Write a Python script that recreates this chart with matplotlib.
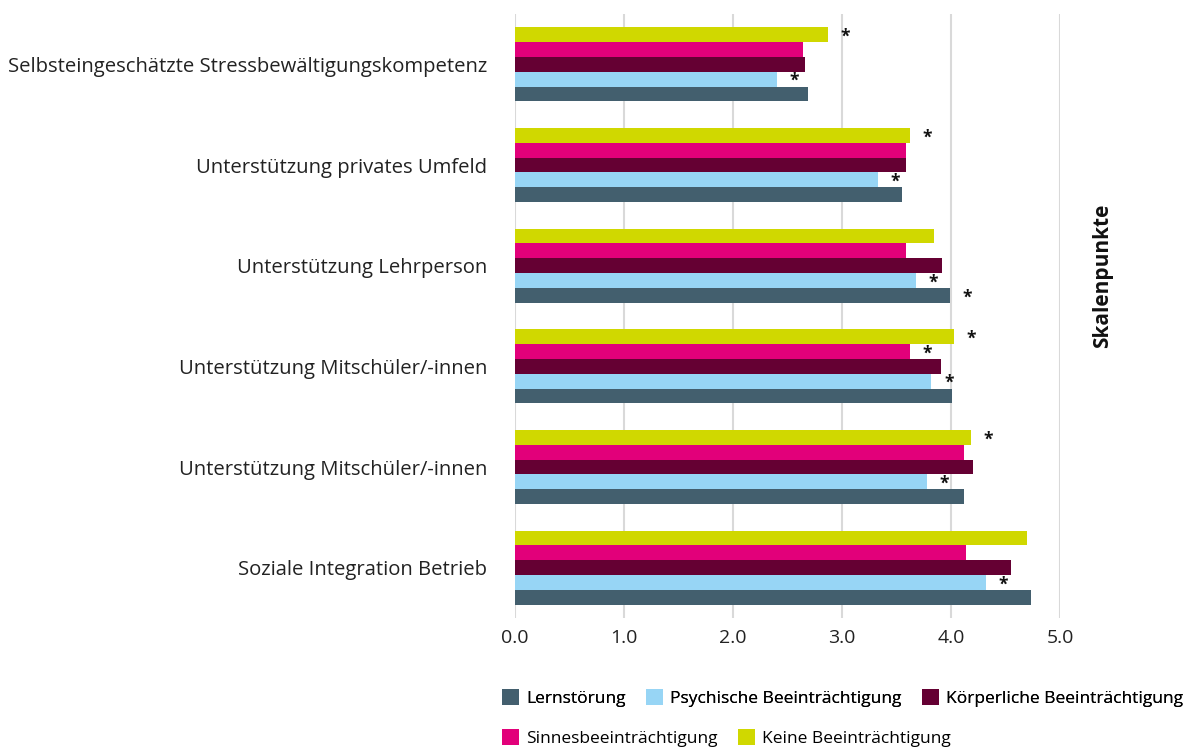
import numpy as np
import matplotlib.pyplot as plt
from matplotlib.patches import Patch

plt.rcParams['font.family'] = ['Open Sans', 'DejaVu Sans']

# categories, top to bottom as shown
categories = [
    "Selbsteingeschätzte Stressbewältigungskompetenz",
    "Unterstützung privates Umfeld",
    "Unterstützung Lehrperson",
    "Unterstützung Mitschüler/-innen",
    "Unterstützung Mitschüler/-innen",
    "Soziale Integration Betrieb",
]
series_names = ["Lernstörung", "Psychische Beeinträchtigung", "Körperliche Beeinträchtigung",
                "Sinnesbeeinträchtigung", "Keine Beeinträchtigung"]
colors = ["#435f6e", "#97d5f5", "#650033", "#e2007a", "#d0d800"]

lernstoerung = [2.69, 3.55, 3.99, 4.01, 4.12, 4.73]
psychische = [2.40, 3.33, 3.68, 3.82, 3.78, 4.32]
koerperliche = [2.66, 3.59, 3.92, 3.91, 4.20, 4.55]
sinnes = [2.64, 3.59, 3.59, 3.62, 4.12, 4.14]
keine = [2.87, 3.62, 3.84, 4.03, 4.18, 4.70]

# significance markers (*)
sig_lern = [False, False, True, False, False, False]
sig_psych = [True, True, True, True, True, True]
sig_koerp = [False, False, False, False, False, False]
sig_sinnes = [False, False, False, True, False, False]
sig_keine = [True, True, False, True, True, False]

values = [lernstoerung, psychische, koerperliche, sinnes, keine]
sigs = [sig_lern, sig_psych, sig_koerp, sig_sinnes, sig_keine]

fig = plt.figure(figsize=(11.91, 7.49), dpi=100)
ax = fig.add_axes([515/1191, 1-618/749, (1060-515)/1191, (618-14)/749])

n_cat = len(categories)
ypos = np.arange(n_cat)[::-1]  # first category on top
h = 0.147
offsets = (np.arange(5) - 2) * h

for k in range(5):
    ax.barh(ypos + offsets[k], values[k], height=h, color=colors[k], linewidth=0, zorder=3)
    for i in range(n_cat):
        if sigs[k][i]:
            ax.text(values[k][i] + 0.16, ypos[i] + offsets[k] - 0.02, "*", ha='center', va='center',
                    fontsize=12.5, fontweight='bold', color='#111111', zorder=4)

ax.set_xlim(0, 5)
ax.set_ylim(-0.5, n_cat - 0.5)
ax.set_xticks(np.arange(0, 5.01, 1.0))
ax.set_xticklabels([f"{v:.1f}" for v in np.arange(0, 5.01, 1.0)], fontsize=14, color='#222222')
ax.set_yticks(ypos)
ax.set_yticklabels(categories, fontsize=14.6, color='#222222')
ax.tick_params(axis='both', length=0)
ax.tick_params(axis='y', pad=20)
ax.tick_params(axis='x', pad=8)
ax.grid(axis='x', color='#d9d9d9', linewidth=1.5, zorder=0)
for s in ax.spines.values():
    s.set_visible(False)

fig.text(1103/1191, 1-276/749, "Skalenpunkte", rotation=90, ha='center', va='center',
         fontsize=15, fontweight='bold', color='#111111')

handles = [Patch(facecolor=c, edgecolor='none') for c in colors]
leg_kw = dict(frameon=False, fontsize=12.5, handlelength=0.98, handleheight=0.98,
              handletextpad=0.4, columnspacing=1.2, borderpad=0, borderaxespad=0)
leg1 = fig.legend(handles[:3], series_names[:3], loc='center left', bbox_to_anchor=(502/1191, 1-698/749),
                  ncol=3, **leg_kw)
leg2 = fig.legend(handles[3:], series_names[3:], loc='center left', bbox_to_anchor=(502/1191, 1-738/749),
                  ncol=2, **leg_kw)
fig.add_artist(leg1)

fig.savefig("out.png", dpi=100)
